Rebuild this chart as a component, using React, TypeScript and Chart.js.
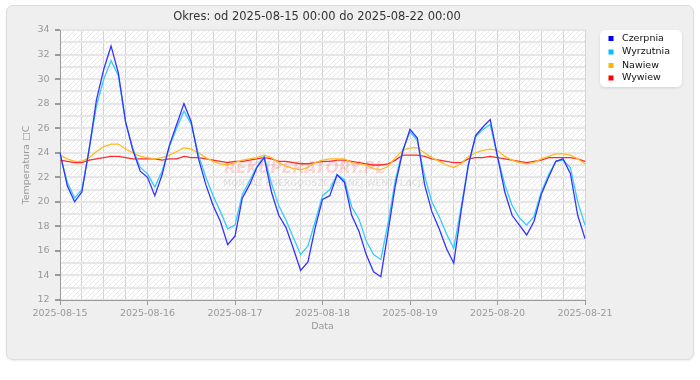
import React, { useEffect, useRef } from 'react';
import { Chart, registerables } from 'chart.js';

Chart.register(...registerables);

const TITLE = 'Okres: od 2025-08-15 00:00 do 2025-08-22 00:00';
const X_TITLE = 'Data';
const Y_TITLE = 'Temperatura \u25A1C';
const WATERMARK = 'REKUPERATORY.PL';
const WATERMARK_SUB = 'MONTAŻ ENERGOOSZCZĘDNEJ WENTYLACJI';
const START_UTC = Date.UTC(2025, 7, 15, 0, 0);
const STEP_HOURS = 2;

const seriesNames = ['Czerpnia', 'Wyrzutnia', 'Nawiew', 'Wywiew'];

const czerpnia = [
  24.0, 21.3, 20.0, 20.8, 24.3, 28.3, 30.8, 32.7, 30.5, 26.5, 24.2, 22.5,
  22.0, 20.5, 22.2, 24.6, 26.3, 28.0, 26.5, 23.5, 21.4, 19.7, 18.4, 16.5,
  17.2, 20.3, 21.4, 22.8, 23.6, 20.8, 18.9, 17.9, 16.2, 14.4, 15.1, 17.9,
  20.2, 20.5, 22.2, 21.6, 18.9, 17.6, 15.7, 14.3, 13.9, 17.6, 21.4, 24.1,
  25.9, 25.2, 21.4, 19.2, 17.8, 16.2, 15.0, 19.2, 23.0, 25.4, 26.1, 26.7,
  23.7, 20.8, 18.9, 18.1, 17.3, 18.4, 20.6, 22.0, 23.3, 23.5, 22.3, 18.9,
  17.0,
];

const wyrzutnia = [
  23.8, 21.6, 20.3, 21.0, 24.3, 27.8, 30.0, 31.5, 30.3, 26.5, 24.3, 22.8,
  22.3, 21.2, 22.5, 24.5, 26.0, 27.4, 26.3, 23.8, 22.0, 20.5, 19.2, 17.8,
  18.1, 20.6, 21.7, 22.9, 23.7, 21.5, 19.7, 18.5, 17.1, 15.7, 16.4, 18.4,
  20.5, 21.0, 22.2, 21.8, 19.6, 18.6, 16.8, 15.7, 15.3, 18.3, 21.8, 24.2,
  25.7, 25.0, 22.1, 20.0, 18.8, 17.4, 16.2, 19.5, 23.0, 25.3, 25.9, 26.3,
  23.7, 21.4, 19.7, 18.7, 18.1, 18.8, 20.8, 22.2, 23.3, 23.4, 22.8, 20.0,
  18.1,
];

const nawiew = [
  23.8, 23.5, 23.3, 23.3, 23.6, 24.1, 24.5, 24.7, 24.7, 24.3, 24.0, 23.7,
  23.6, 23.5, 23.6, 23.8, 24.1, 24.4, 24.3, 24.0, 23.6, 23.3, 23.1, 23.0,
  23.2, 23.4, 23.5, 23.6, 23.8, 23.6, 23.2, 22.9, 22.7, 22.6, 22.8, 23.2,
  23.4, 23.5, 23.5, 23.5, 23.2, 23.1, 23.0, 22.7, 22.6, 22.9, 23.6, 24.2,
  24.4, 24.4, 24.0, 23.6, 23.3, 23.0, 22.8, 23.1, 23.7, 24.0, 24.2, 24.3,
  24.2, 23.7, 23.4, 23.2, 23.1, 23.2, 23.5, 23.7, 23.9, 23.9, 23.8, 23.5,
  23.1,
];

const wywiew = [
  23.4, 23.3, 23.2, 23.2, 23.4, 23.5, 23.6, 23.7, 23.7, 23.6, 23.5, 23.5,
  23.5, 23.5, 23.4, 23.5, 23.5, 23.7, 23.6, 23.6, 23.5, 23.4, 23.3, 23.2,
  23.3, 23.3, 23.4, 23.5, 23.6, 23.5, 23.3, 23.3, 23.2, 23.1, 23.1, 23.2,
  23.3, 23.3, 23.4, 23.4, 23.3, 23.2, 23.1, 23.0, 23.0, 23.1, 23.4, 23.8,
  23.8, 23.8, 23.7, 23.5, 23.4, 23.3, 23.2, 23.2, 23.5, 23.6, 23.6, 23.7,
  23.6, 23.5, 23.4, 23.3, 23.2, 23.3, 23.4, 23.6, 23.6, 23.6, 23.6, 23.5,
  23.3,
];

const lineColors = ['#3333ff', '#33ccff', '#ffbb22', '#ff2a2a'];
const legendColors = ['#0000ff', '#00bfff', '#ffb400', '#ff0000'];

const pad = (n: number) => (n < 10 ? '0' + n : String(n));
const timeLabels = czerpnia.map((_, i) => {
  const d = new Date(START_UTC + i * STEP_HOURS * 3600 * 1000);
  return `${d.getUTCFullYear()}-${pad(d.getUTCMonth() + 1)}-${pad(d.getUTCDate())} ${pad(d.getUTCHours())}:00`;
});

const FONT = '"DejaVu Sans", Verdana, sans-serif';

export default function App() {
  const ref = useRef<HTMLCanvasElement | null>(null);

  useEffect(() => {
    if (!ref.current) return;
    const pc = document.createElement('canvas');
    pc.width = 5;
    pc.height = 5;
    const p = pc.getContext('2d')!;
    p.fillStyle = '#ffffff';
    p.fillRect(0, 0, 5, 5);
    p.strokeStyle = '#e9e9e9';
    p.lineWidth = 1;
    for (const o of [-5, 0, 5]) {
      p.beginPath();
      p.moveTo(-1 + o, 6);
      p.lineTo(6 + o, -1);
      p.stroke();
    }

    const decor = {
      id: 'decor',
      beforeDraw(chart: any) {
        const { ctx, chartArea: a } = chart;
        ctx.save();
        const pattern = ctx.createPattern(pc, 'repeat');
        ctx.fillStyle = pattern || '#fff';
        ctx.fillRect(a.left, a.top, a.right - a.left, a.bottom - a.top);
        // title
        ctx.fillStyle = '#333';
        ctx.font = `11.5px ${FONT}`;
        ctx.textAlign = 'center';
        ctx.textBaseline = 'middle';
        ctx.fillText(TITLE, 317, 17);
        ctx.restore();
      },
      beforeDatasetsDraw(chart: any) {
        const { ctx } = chart;
        ctx.save();
        ctx.textAlign = 'left';
        ctx.textBaseline = 'middle';
        ctx.font = `italic bold 15.5px ${FONT}`;
        ctx.fillStyle = 'rgba(255, 60, 60, 0.2)';
        ctx.fillText(WATERMARK, 224, 169);
        ctx.font = `bold 8.3px ${FONT}`;
        ctx.fillStyle = 'rgba(0, 0, 0, 0.09)';
        ctx.fillText(WATERMARK_SUB, 223, 183.5);
        ctx.restore();
      },
      afterDraw(chart: any) {
        const { ctx } = chart;
        ctx.save();
        const x = 600, y = 30, w = 82, h = 57, r = 5;
        ctx.shadowColor = 'rgba(0,0,0,0.12)';
        ctx.shadowBlur = 3;
        ctx.shadowOffsetY = 1;
        ctx.fillStyle = '#ffffff';
        ctx.beginPath();
        ctx.roundRect(x, y, w, h, r);
        ctx.fill();
        ctx.shadowColor = 'transparent';
        ctx.font = `9.5px ${FONT}`;
        ctx.textAlign = 'left';
        ctx.textBaseline = 'middle';
        const rows = [38.5, 52, 65.5, 78];
        seriesNames.forEach((name, i) => {
          ctx.fillStyle = legendColors[i];
          ctx.fillRect(608.5, rows[i] - 2.5, 5, 5);
          ctx.fillStyle = '#111';
          ctx.fillText(name, 622, rows[i]);
        });
        ctx.restore();
      },
    };

    const series = [czerpnia, wyrzutnia, nawiew, wywiew];
    const chart = new Chart(ref.current, {
      type: 'line',
      data: {
        labels: timeLabels,
        datasets: series.map((d, i) => ({
          label: seriesNames[i],
          data: d,
          borderColor: lineColors[i],
          backgroundColor: legendColors[i],
          borderWidth: 1.3,
          pointRadius: 0,
          tension: 0,
          fill: false,
        })),
      },
      options: {
        animation: false,
        responsive: false,
        maintainAspectRatio: false,
        events: [],
        layout: { padding: { left: 0, right: 115, top: 30, bottom: 45 } },
        plugins: {
          legend: { display: false },
          title: { display: false },
          tooltip: { enabled: false },
        },
        scales: {
          x: {
            type: 'category',
            offset: false,
            afterFit: (s: any) => { s.height = 35; },
            border: { color: '#9a9a9a', width: 1 },
            grid: {
              color: (c: any) => (c.index % 3 === 0 ? '#d4d4d4' : 'transparent'),
              tickColor: (c: any) => (c.index % 12 === 0 ? '#9a9a9a' : 'transparent'),
              tickLength: 5,
              lineWidth: 1,
            },
            ticks: {
              autoSkip: false,
              maxRotation: 0,
              minRotation: 0,
              padding: 3,
              color: '#999',
              font: { family: FONT, size: 9.5 },
              callback: (_v: any, i: number) => (i % 12 === 0 ? timeLabels[i].slice(0, 10) : ''),
            },
            title: {
              display: true,
              text: X_TITLE,
              color: '#999',
              font: { family: FONT, size: 9.5 },
              padding: { top: 0, bottom: 2.5 },
            },
          },
          y: {
            type: 'linear',
            min: 12,
            max: 34,
            afterFit: (s: any) => { s.width = 60; },
            border: { color: '#9a9a9a', width: 1 },
            grid: {
              color: '#e6e6e6',
              lineWidth: 2,
              tickColor: (c: any) => (c.tick && c.tick.value % 2 === 0 ? '#9a9a9a' : 'transparent'),
              tickLength: 5,
            },
            ticks: {
              stepSize: 1,
              autoSkip: false,
              padding: 5.5,
              color: '#999',
              font: { family: FONT, size: 9.5 },
              callback: (v: any) => (Number(v) % 2 === 0 ? String(v) : ''),
            },
            title: {
              display: true,
              text: Y_TITLE,
              color: '#999',
              font: { family: FONT, size: 9.5 },
              padding: { top: 21, bottom: 0 },
            },
          },
        },
      },
      plugins: [decor],
    } as any);
    return () => chart.destroy();
  }, []);

  return (
    <div style={{ position: 'fixed', left: 0, top: 0, width: 700, height: 380, background: '#ffffff' }}>
      <div
        style={{
          position: 'absolute',
          left: 6,
          top: 5,
          width: 686,
          height: 353,
          background: '#efefef',
          border: '1px solid #dddddd',
          borderRadius: 7,
          boxShadow: '0 1px 2px rgba(0,0,0,0.08)',
        }}
      />
      <canvas ref={ref} width={700} height={380} style={{ position: 'absolute', left: 0, top: 0, width: 700, height: 380 }} />
    </div>
  );
}
